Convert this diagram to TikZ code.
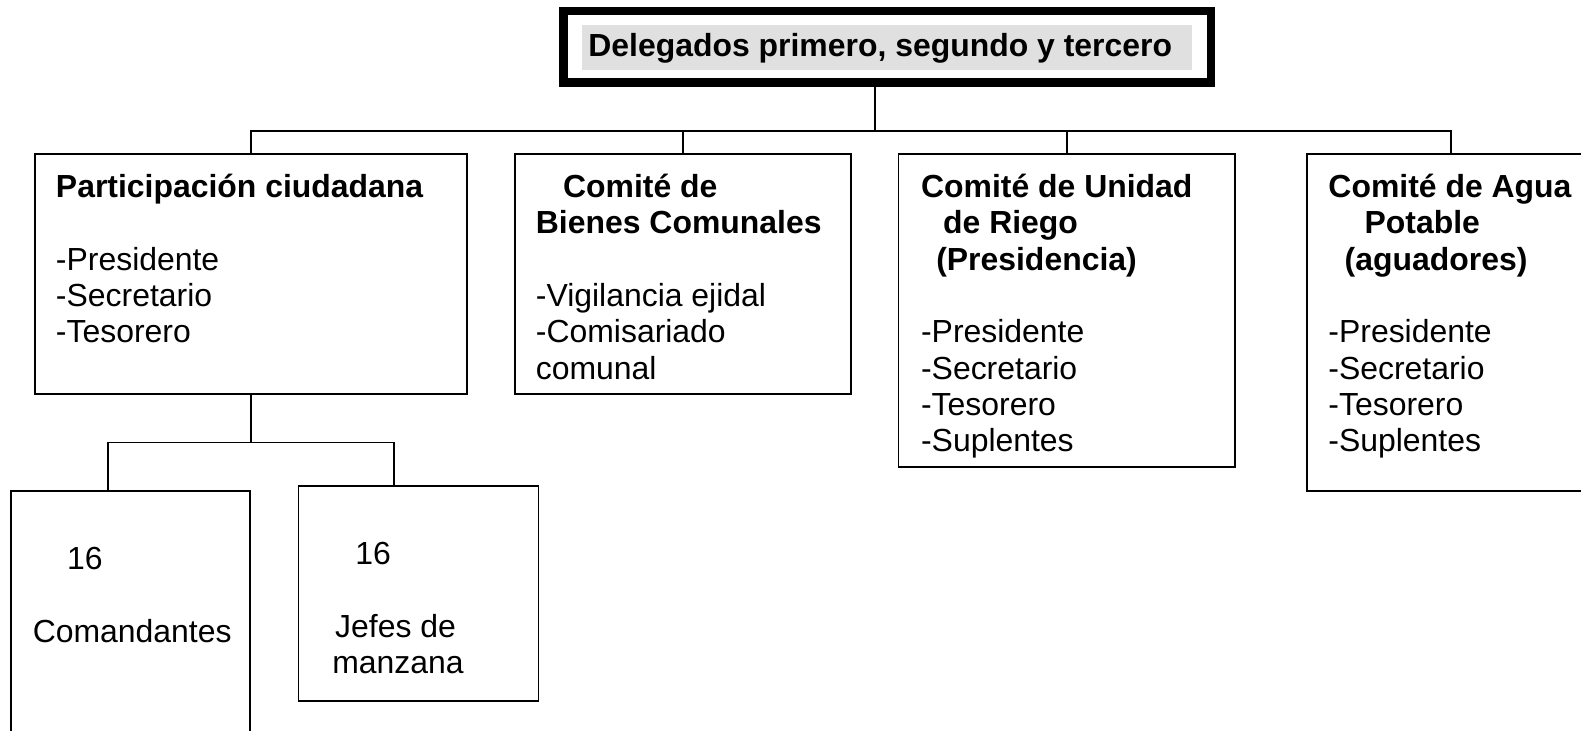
\documentclass[tikz,border=0pt]{standalone}
\usepackage{fontspec}
\setmainfont{Liberation Sans}
\usetikzlibrary{fit}
\definecolor{shade}{RGB}{224,224,224}
\tikzstyle{box} = [rectangle, draw=black, line width=0.6pt, inner sep=0pt]
\tikzstyle{topbox} = [rectangle, draw=black, line width=3.15pt, inner sep=0pt]
\tikzstyle{txt} = [anchor=base west, inner sep=0pt, align=left, font=\fontsize{12}{13.65}\selectfont]
\tikzstyle{line} = [line width=0.6pt]

\begin{document}
\begin{tikzpicture}[x=0.379pt,y=-0.379pt]
\useasboundingbox (0,0) rectangle (1568,724);

% top box
\node (del) [topbox, fit={(559,11)(1201,82)}] {};
\node (delbg) [rectangle, fill=shade, inner sep=0pt, fit={(577,25)(1182,69)}] {};
\node (delt) [txt, font=\fontsize{12}{13.65}\selectfont\bfseries] at (583,56) {Delegados primero, segundo y tercero};

% committees (text placed by the baseline of its last line)
\node (pc) [box, fit={(35,153)(463,391)}] {};
\node (bienes) [box, fit={(511,153)(844,391)}] {};
\node (riego) [box, fit={(891,153)(1225,463)}] {};
\node (agua) [box, fit={(1296,153)(1582,487)}] {};

\node (pct) [txt] at (55,340) {\textbf{Participación ciudadana}\\[13.65pt]-Presidente\\-Secretario\\-Tesorero};
\node (bienest) [txt] at (531,376) {\hspace*{10.2pt}\textbf{Comité de}\\\textbf{Bienes Comunales}\\[13.65pt]-Vigilancia ejidal\\-Comisariado\\comunal};
\node (riegot) [txt] at (913,448) {\textbf{Comité de Unidad}\\\hspace*{8.3pt}\textbf{de Riego}\\\hspace*{5.7pt}\textbf{(Presidencia)}\\[13.65pt]-Presidente\\-Secretario\\-Tesorero\\-Suplentes};
\node (aguat) [txt] at (1317,448) {\textbf{Comité de Agua}\\\hspace*{13.6pt}\textbf{Potable}\\\hspace*{6.1pt}\textbf{(aguadores)}\\[13.65pt]-Presidente\\-Secretario\\-Tesorero\\-Suplentes};

% lower level
\node (com) [box, fit={(11,487)(248,740)}] {};
\node (jefes) [box, fit={(296,482)(534,695)}] {};
\node (comt) [txt] at (32,637) {\hspace*{12.9pt}16\\[13.65pt]Comandantes};
\node (jefest) [txt] at (329,668) {\hspace*{8.7pt}16\\[13.65pt]\hspace*{1.1pt}Jefes de\\manzana};

\coordinate (hub) at (868,130);
\coordinate (subl) at (107,439);
\coordinate (subr) at (391,439);

\draw [line] (hub |- del.south) -- (hub);
\draw [line] (pc.north) -- (pc.north |- hub) -- (agua.north |- hub) -- (agua.north);
\draw [line] (bienes.north) -- (bienes.north |- hub);
\draw [line] (riego.north) -- (riego.north |- hub);

\draw [line] (pc.south) -- (pc.south |- subl);
\draw [line] (subl |- com.north) -- (subl) -- (subr) -- (subr |- jefes.north);

\end{tikzpicture}
\end{document}
